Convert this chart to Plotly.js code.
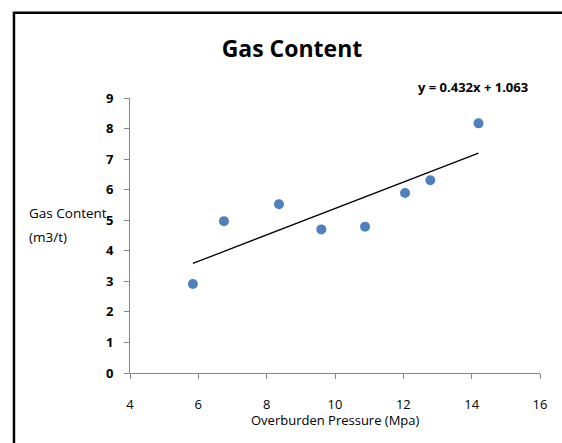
<!DOCTYPE html>
<html>
<head>
<meta charset="utf-8">
<script src="https://cdn.plot.ly/plotly-3.0.1.min.js"></script>
<style>html,body{margin:0;padding:0;background:#fff;}#chart{width:562px;height:443px;}</style>
</head>
<body>
<div id="chart"></div>
<script>
var pressure = [5.84, 6.75, 8.36, 9.60, 10.88, 12.05, 12.79, 14.20];
var gasContent = [2.91, 4.97, 5.52, 4.70, 4.79, 5.89, 6.31, 8.17];
var trendSlope = 0.432;
var trendIntercept = 1.063;
var xTicks = [4, 6, 8, 10, 12, 14, 16];
var yTicks = [0, 1, 2, 3, 4, 5, 6, 7, 8, 9];

var xMin = Math.min.apply(null, pressure);
var xMax = Math.max.apply(null, pressure);
var trendX = [xMin, xMax];
var trendY = trendX.map(function (x) { return trendSlope * x + trendIntercept; });

var font = "Open Sans, Arial, sans-serif";

var data = [
  {
    x: trendX, y: trendY, type: 'scatter', mode: 'lines',
    line: {color: '#000000', width: 1.3}, hoverinfo: 'skip', showlegend: false
  },
  {
    x: pressure, y: gasContent, type: 'scatter', mode: 'markers',
    marker: {color: '#4F81BD', size: 10, line: {width: 0}}, showlegend: false
  }
];

var layout = {
  width: 562, height: 443,
  margin: {l: 130, r: 22, t: 98, b: 70},
  paper_bgcolor: '#ffffff', plot_bgcolor: '#ffffff',
  showlegend: false,
  font: {family: font, color: '#000000'},
  xaxis: {
    range: [4, 16], tickvals: xTicks, ticktext: xTicks.map(String),
    showgrid: false, zeroline: false, showline: true, linecolor: '#868686', linewidth: 1,
    ticks: 'outside', ticklen: 5, tickcolor: '#868686', ticklabelstandoff: 14,
    tickfont: {family: font, size: 13, color: '#000'}
  },
  yaxis: {
    range: [0, 9], tickvals: yTicks, ticktext: yTicks.map(function (v) { return '<b>' + v + '</b>'; }),
    showgrid: false, zeroline: false, showline: true, linecolor: '#868686', linewidth: 1,
    ticks: 'outside', ticklen: 5, tickcolor: '#868686', ticklabelstandoff: 8,
    tickfont: {family: font, size: 13, color: '#000'}
  },
  title: {
    text: '<b>Gas Content</b>', font: {family: font, size: 23, color: '#000'},
    x: 0.395, xref: 'paper', xanchor: 'center', y: 0.89, yanchor: 'middle'
  },
  annotations: [
    {
      text: 'Overburden Pressure (Mpa)', xref: 'paper', yref: 'paper',
      x: 0.5, y: -0.172, xanchor: 'center', yanchor: 'middle', showarrow: false,
      font: {family: font, size: 13, color: '#000'}
    },
    {
      text: 'Gas Content', xref: 'paper', yref: 'paper',
      x: -0.251, y: 0.582, xanchor: 'left', yanchor: 'middle', showarrow: false,
      font: {family: font, size: 13.5, color: '#000'}
    },
    {
      text: '(m3/t)', xref: 'paper', yref: 'paper',
      x: -0.251, y: 0.495, xanchor: 'left', yanchor: 'middle', showarrow: false,
      font: {family: font, size: 13.5, color: '#000'}
    },
    {
      text: '<b>y = 0.432x + 1.063</b>', xref: 'paper', yref: 'paper',
      x: 0.976, y: 1.04, xanchor: 'right', yanchor: 'middle', showarrow: false,
      font: {family: font, size: 13, color: '#000'}
    }
  ],
  shapes: [
    {
      type: 'rect', xref: 'paper', yref: 'paper',
      x0: -0.283, x1: 1.1, y0: -0.3, y1: 1.31,
      line: {color: '#000000', width: 2.5}, fillcolor: 'rgba(0,0,0,0)', layer: 'above'
    }
  ]
};

Plotly.newPlot('chart', data, layout, {displayModeBar: false, staticPlot: true});
</script>
</body>
</html>
